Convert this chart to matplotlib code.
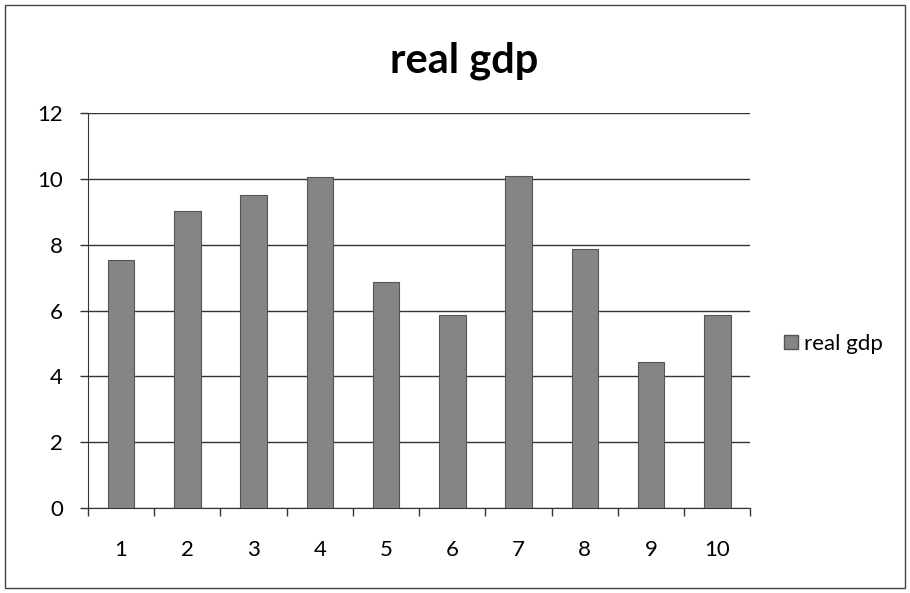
import matplotlib
matplotlib.use("Agg")
import matplotlib.pyplot as plt
from matplotlib.patches import Rectangle, Patch

plt.rcParams['font.family'] = ['Lato', 'DejaVu Sans']

categories = ["1", "2", "3", "4", "5", "6", "7", "8", "9", "10"]
real_gdp = [7.55, 9.02, 9.52, 10.05, 6.86, 5.85, 10.1, 7.88, 4.45, 5.87]
series_name = "real gdp"
y_ticks = [0, 2, 4, 6, 8, 10, 12]

fig = plt.figure(figsize=(9.10, 5.93), dpi=100)
ax = fig.add_axes([0.0967, 0.1433, 0.728, 0.666])

x = list(range(len(categories)))
ax.bar(x, real_gdp, width=0.4, color="#858585", edgecolor="#555555",
       linewidth=0.8, zorder=3)

ax.set_xlim(-0.5, len(categories) - 0.5)
ax.set_ylim(0, 12)
ax.set_yticks(y_ticks)
ax.set_yticklabels([str(v) for v in y_ticks], fontsize=16)
ax.yaxis.grid(True, color="#333333", linewidth=1.0, zorder=0)
ax.set_axisbelow(True)

# category labels centred under bars, tick marks between categories
ax.set_xticks(x)
ax.set_xticklabels(categories, fontsize=16)
ax.tick_params(axis='x', length=0, pad=23)
ax.set_xticks([i - 0.5 for i in range(len(categories) + 1)], minor=True)
ax.tick_params(axis='x', which='minor', length=6, width=1, color="#333333")
ax.tick_params(axis='y', length=6, width=1, color="#333333", pad=12)

for side in ("top", "right"):
    ax.spines[side].set_visible(False)
ax.spines["left"].set_color("#333333")
ax.spines["bottom"].set_color("#333333")

fig.text(0.51, 0.897, "real gdp", ha="center", va="center",
         fontsize=30, fontweight="bold")

leg = fig.legend(handles=[Patch(facecolor="#858585", edgecolor="#555555",
                                label=series_name)],
                 loc="center left", bbox_to_anchor=(0.862, 0.42),
                 frameon=False, fontsize=16, handlelength=0.6,
                 handleheight=0.6, handletextpad=0.3,
                 borderpad=0, borderaxespad=0)

fig.patches.append(Rectangle((0.006, 0.008), 0.988, 0.984,
                             transform=fig.transFigure, fill=False,
                             edgecolor="#444444", linewidth=1.0))

fig.savefig("out.png", dpi=100)
